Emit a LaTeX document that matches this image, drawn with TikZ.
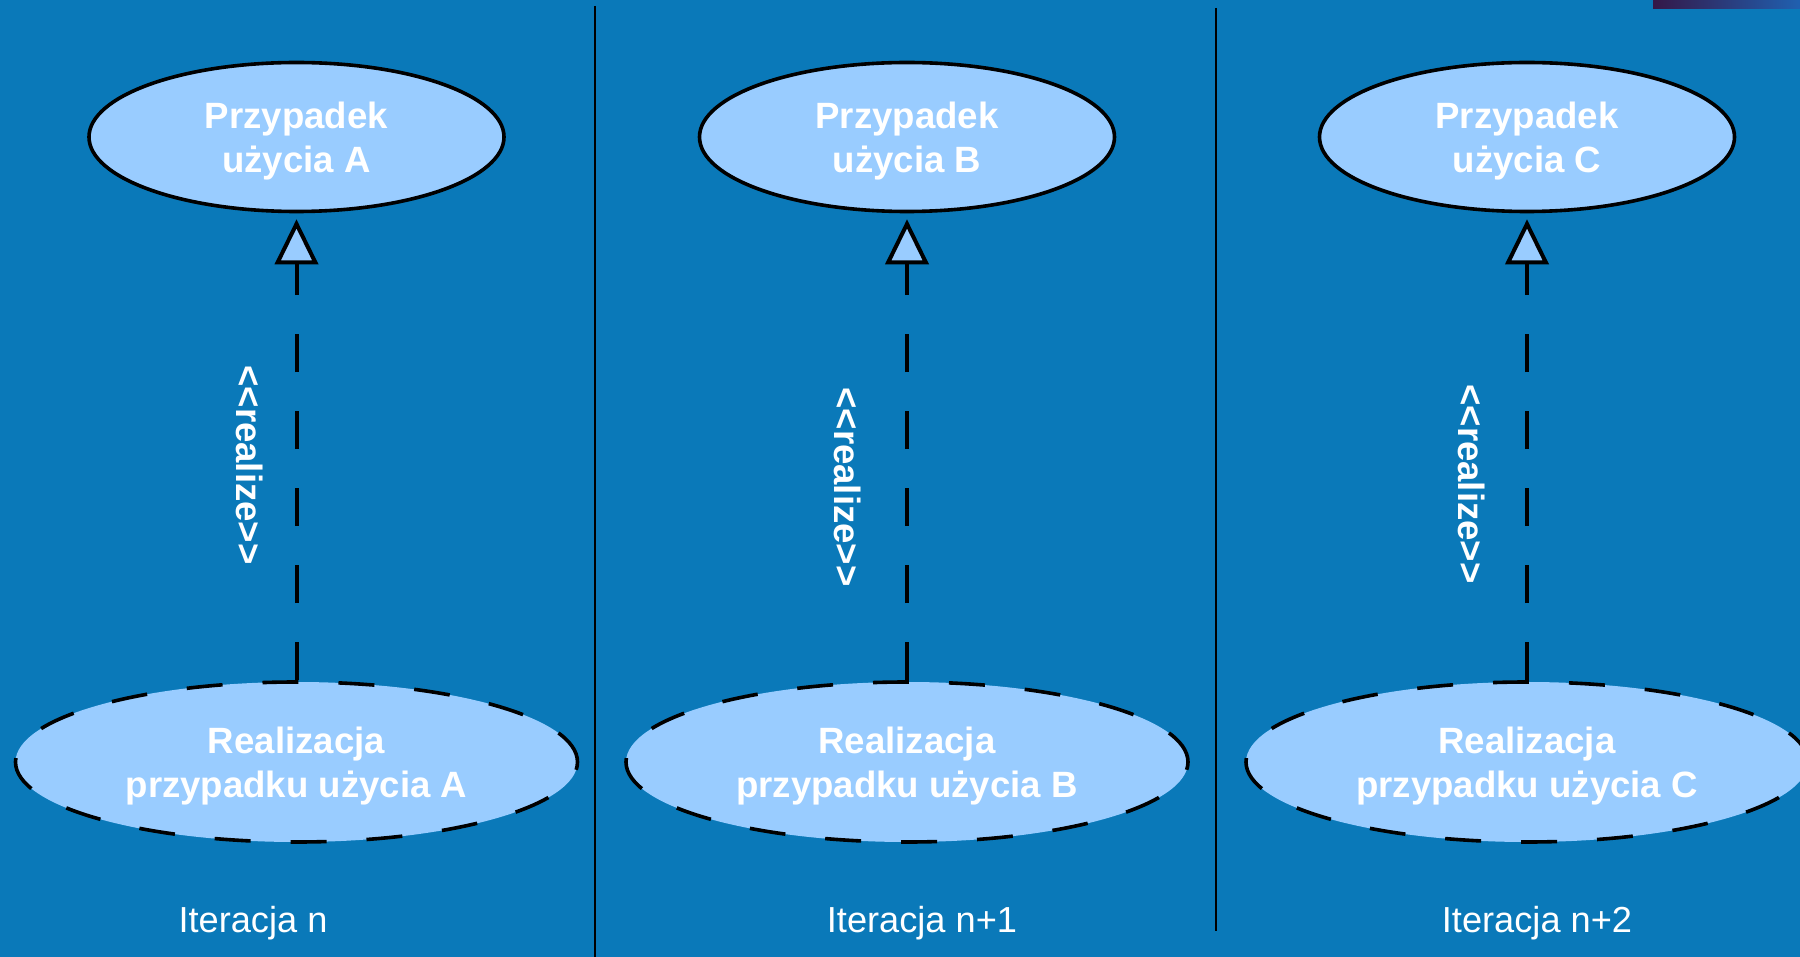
\documentclass[tikz,border=0pt]{standalone}
\usepackage{fontspec}
\setmainfont{Liberation Sans}
\usetikzlibrary{arrows.meta,shapes.geometric}
\definecolor{bg}{RGB}{10,121,185}
\definecolor{lb}{RGB}{153,204,255}
\definecolor{bardark}{RGB}{52,24,72}
\definecolor{barblue}{RGB}{32,96,176}
\begin{document}
\begin{tikzpicture}[x=1pt,y=-1pt,
  usecase/.style={ellipse, draw=black, line width=3.6pt, fill=lb,
    minimum width=415pt, minimum height=149pt, inner sep=0pt,
    text=white, font=\bfseries\fontsize{36.6}{44.5}\selectfont, align=center,
    text depth=0pt},
  realization/.style={usecase, dash pattern=on 36pt off 40pt,
    minimum width=562pt, minimum height=160pt},
  realizes/.style={line width=4pt, dash pattern=on 38.5pt off 38.5pt,
    -{Triangle[length=45pt,width=43pt,fill=lb]}, shorten >=6pt},
  stereo/.style={text=white, font=\bfseries\fontsize{36.6}{44}\selectfont,
    rotate=-90, inner sep=0pt},
  iterlabel/.style={text=white, font=\fontsize{36.2}{44}\selectfont,
    inner sep=0pt, anchor=base},
  separator/.style={line width=2.2pt, draw=black}]
\fill[bg] (0,0) rectangle (1800,957);
\useasboundingbox (0,0) rectangle (1800,957);
\clip (0,0) rectangle (1800,957);
\shade[left color=bardark, right color=barblue] (1653,0) rectangle (1800,9);

% separators
\coordinate (s1t) at (595,6);
\coordinate (s1b) at (595,957);
\coordinate (s2t) at (1216,8);
\coordinate (s2b) at (1216,931);
\draw[separator] (s1t) -- (s1b);
\draw[separator] (s2t) -- (s2b);

% column A
\node[usecase] (ucA) at (296.5,137) {Przypadek\\użycia A};
\node[realization] (rA) at (296.5,762) {Realizacja\\przypadku użycia A};
\draw[realizes] (rA) -- (ucA);
\node[stereo] (stA) at (250,465) {{<}{<}realize{>}{>}};
\node[iterlabel] (itA) at (253,932) {Iteracja n};

% column B
\node[usecase] (ucB) at (907,137) {Przypadek\\użycia B};
\node[realization] (rB) at (907,762) {Realizacja\\przypadku użycia B};
\draw[realizes] (rB) -- (ucB);
\node[stereo] (stB) at (848,487) {{<}{<}realize{>}{>}};
\node[iterlabel] (itB) at (922,932) {Iteracja n+1};

% column C
\node[usecase] (ucC) at (1527,137) {Przypadek\\użycia C};
\node[realization] (rC) at (1527,762) {Realizacja\\przypadku użycia C};
\draw[realizes] (rC) -- (ucC);
\node[stereo] (stC) at (1472,484) {{<}{<}realize{>}{>}};
\node[iterlabel] (itC) at (1537,932) {Iteracja n+2};
\end{tikzpicture}
\end{document}
